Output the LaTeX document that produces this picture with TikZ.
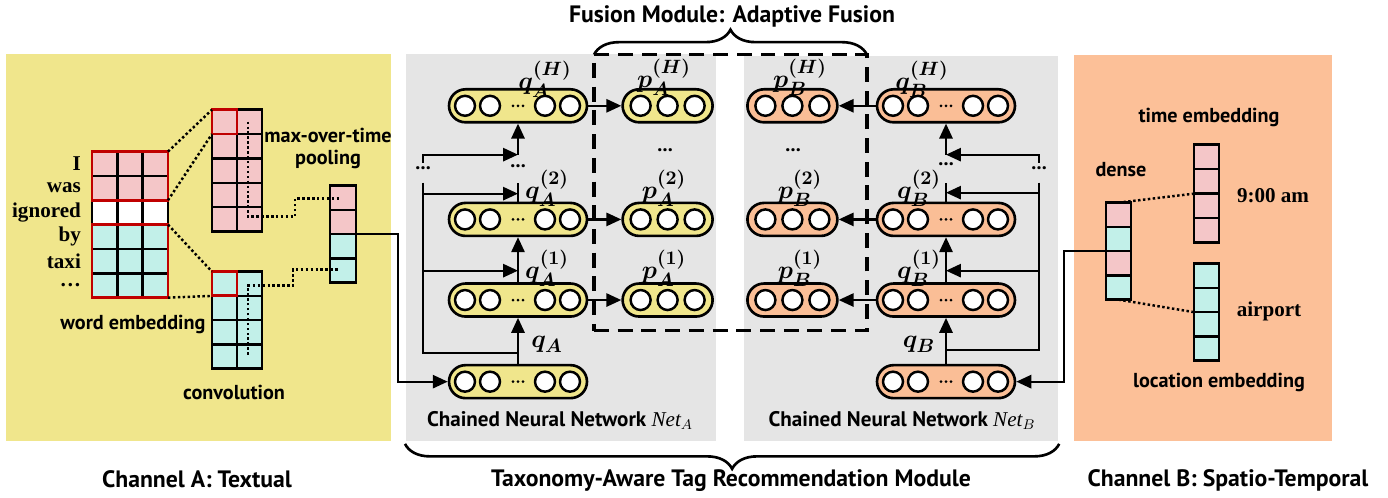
\documentclass[tikz,border=0pt]{standalone}
\usepackage{amsmath}
\usepackage{fontspec}
\setmainfont{PT Sans}
\newfontfamily\wordfont{Liberation Serif}
\usetikzlibrary{arrows.meta, positioning, decorations.pathreplacing}

\definecolor{khaki}{RGB}{240,230,140}
\definecolor{panelgray}{RGB}{229,229,229}
\definecolor{peach}{RGB}{252,192,152}
\definecolor{cellpink}{RGB}{244,198,200}
\definecolor{cellcyan}{RGB}{194,240,233}
\definecolor{pillyellow}{RGB}{240,230,140}
\definecolor{pillorange}{RGB}{250,190,150}
\definecolor{boxred}{RGB}{192,0,0}

\newcommand{\netname}[1]{{\wordfont\itshape\mdseries Net}$_{#1}$}

\begin{document}
\begin{tikzpicture}[
            x = 0.02cm, y = -0.02cm, % one unit = one pixel, y downwards
            > = {Triangle[length=8.5pt,width=7.5pt]}, % arrow head style
            line width = 1.3pt,
            every node/.style = {font=\fontsize{11.5}{13}\selectfont\bfseries}
        ]

        \tikzstyle{panel}=[draw=none, inner sep=0pt, anchor=north west]
        \tikzstyle{mframe}=[draw=none, inner sep=0pt, outer sep=0pt, anchor=north west]
        \tikzstyle{redframe}=[mframe, draw=boxred, line width=1.6pt]
        \tikzstyle{cell}=[draw=black, line width=1.4pt]
        \tikzstyle{dotline}=[dash pattern=on 1.4pt off 1.4pt, line width=1.4pt]
        \tikzstyle{pillA}=[
            draw = black,
            line width = 1.5pt,
            fill = pillyellow,
            rounded corners = 0.33cm,
            minimum width = 2.76cm,
            minimum height = 0.66cm,
            inner sep = 0pt
        ]
        \tikzstyle{pillB}=[pillA, fill=pillorange]
        \tikzstyle{pillshortA}=[pillA, minimum width=1.8cm]
        \tikzstyle{pillshortB}=[pillB, minimum width=1.8cm]
        \tikzstyle{unit}=[draw=black, fill=white, line width=1.4pt]
        \tikzstyle{vlabel}=[font=\fontsize{15}{16}\selectfont\boldmath]
        \tikzstyle{netlabel}=[font=\fontsize{12}{13}\selectfont\bfseries]
        \tikzstyle{title}=[font=\fontsize{13.5}{15}\selectfont\bfseries]
        \tikzstyle{words}=[font=\fontsize{12}{13}\selectfont\wordfont\bfseries, anchor=east, inner sep=0pt]
        \tikzstyle{bracebig}=[decorate, decoration={brace, amplitude=0.5cm}, line width=1.5pt]

        % panels
        \node[panel, fill=khaki, minimum width=7.7cm, minimum height=7.74cm] (chA) at (5,50) {};
        \node[panel, fill=panelgray, minimum width=6.2cm, minimum height=7.74cm] (netA) at (405,50) {};
        \node[panel, fill=panelgray, minimum width=6.28cm, minimum height=7.7cm] (netB) at (743,52) {};
        \node[panel, fill=peach, minimum width=5.16cm, minimum height=7.72cm] (chB) at (1073,51) {};

        % ---------------- channel A ----------------
        \foreach \r/\col in {0/cellpink,1/cellpink,2/white,3/cellcyan,4/cellcyan,5/cellcyan}
            \foreach \k in {0,1,2}
                \draw[cell, fill=\col] (92+\k*25.33, 149+\r*24.33) rectangle ++(25.33,24.33);
        \node[redframe, minimum width=1.52cm, minimum height=0.973cm] (wtop) at (92,149) {};
        \node[redframe, minimum width=1.52cm, minimum height=1.46cm] (wbot) at (92,222) {};

        \foreach \w [count=\i from 0] in {I, was, ignored, by, taxi, \dots}
            \node[words] (w\i) at (82, 161+\i*24.33) {\w};

        % convolution
        \foreach \r in {0,...,4}
            \foreach \k in {0,1}
                \draw[cell, fill=cellpink] (212+\k*25, 107+\r*24.4) rectangle ++(25,24.4);
        \foreach \r in {0,...,3}
            \foreach \k in {0,1}
                \draw[cell, fill=cellcyan] (212+\k*25, 269+\r*24.25) rectangle ++(25,24.25);
        \node[mframe, minimum width=1cm, minimum height=2.44cm] (ctop) at (212,107) {};
        \node[mframe, minimum width=1cm, minimum height=1.94cm] (cbot) at (212,269) {};
        \node[redframe, minimum width=0.5cm, minimum height=0.488cm] (ctopcell) at (212,107) {};
        \node[redframe, minimum width=0.5cm, minimum height=0.485cm] (cbotcell) at (212,269) {};

        % pooled vector
        \foreach \r/\col in {0/cellpink,1/cellpink,2/cellcyan,3/cellcyan}
            \draw[cell, fill=\col] (330, 183+\r*24.25) rectangle ++(26,24.25);
        \node[mframe, minimum width=0.52cm, minimum height=1.94cm] (pool) at (330,183) {};

        \draw[dotline] (wtop.north east) -- (ctop.north west);
        \draw[dotline] (wtop.south east) -- (ctopcell.south west);
        \draw[dotline] (wbot.north east) -- (cbot.north west);
        \draw[dotline] (wbot.south east) -- (cbotcell.south west);
        \draw[dotline] (248,119) -- (248,214) -- (295,214) -- (295,196) -- (339,196);
        \draw[dotline] (248,352) -- (248,283) -- (293,283) -- (293,267) -- (339,267);

        \node (maxpool) at (328,133) {max-over-time};
        \node (pooling) at (328,157) {pooling};
        \node (wordemb) at (133,322) {word embedding};
        \node (conv) at (234,390) {convolution};

        % ---------------- chained network A ----------------
        \node[pillA] (qa0) at (518,379) {};
        \node[pillA] (qa1) [above=0.92cm of qa0] {};
        \node[pillA] (qa2) [above=0.9cm of qa1] {};
        \node[pillA] (qaH) [above=1.56cm of qa2] {};
        \node[pillshortA] (pa1) [right=0.66cm of qa1] {};
        \node[pillshortA] (pa2) [right=0.66cm of qa2] {};
        \node[pillshortA] (paH) [right=0.66cm of qaH] {};

        % ---------------- chained network B ----------------
        \node[pillB] (qb0) at (946,379) {};
        \node[pillB] (qb1) [above=0.92cm of qb0] {};
        \node[pillB] (qb2) [above=0.9cm of qb1] {};
        \node[pillB] (qbH) [above=1.56cm of qb2] {};
        \node[pillshortB] (pb1) [left=0.74cm of qb1] {};
        \node[pillshortB] (pb2) [left=0.74cm of qb2] {};
        \node[pillshortB] (pbH) [left=0.74cm of qbH] {};

        % units inside the pills
        \foreach \n in {qa0,qa1,qa2,qaH,qb0,qb1,qb2,qbH} {
            \foreach \dx in {-53,-28,27,52}
                \draw[unit] ([xshift=\dx*0.02cm]\n.center) circle (0.2cm);
            \foreach \dx in {-5,0,5}
                \fill ([xshift=\dx*0.02cm]\n.center) circle (0.03cm);
        }
        \foreach \n in {pa1,pa2,paH,pb1,pb2,pbH}
            \foreach \dx in {-27,0,27}
                \draw[unit] ([xshift=\dx*0.02cm]\n.center) circle (0.2cm);

        % chain A
        \coordinate (topA) at (518,180);
        \coordinate (hA) at (518,152);
        \coordinate (sa0) at (423,350);
        \coordinate (sa1) at (423,268);
        \coordinate (sa2) at (423,191);
        \coordinate (saT) at (423,180);
        \coordinate (sa3) at (423,160);
        \draw[->] (qa0) -- (qa1);
        \draw[->] (qa1) -- (qa2);
        \draw (qa2.north) -- (topA);
        \draw[->] (hA) -- (qaH.south);
        \draw (saT) -- (sa0) -- (sa0 -| qa0.north);
        \draw[->] (sa1) -- (sa1 -| qa1.north);
        \draw[->] (sa2) -- (sa2 -| qa1.north);
        \draw[->] (sa3) |- (hA);
        \node at (423,166) {...};
        \node at (518,164) {...};
        \path[->] (qa1) edge (pa1)
                  (qa2) edge (pa2)
                  (qaH) edge (paH);

        % chain B
        \coordinate (topB) at (946,180);
        \coordinate (hB) at (946,152);
        \coordinate (sb0) at (1039,347);
        \coordinate (sb1) at (1039,268);
        \coordinate (sb2) at (1039,190);
        \coordinate (sbT) at (1039,180);
        \coordinate (sb3) at (1039,160);
        \draw[->] (qb0) -- (qb1);
        \draw[->] (qb1) -- (qb2);
        \draw (qb2.north) -- (topB);
        \draw[->] (hB) -- (qbH.south);
        \draw (sbT) -- (sb0) -- (sb0 -| qb0.north);
        \draw[->] (sb1) -- (sb1 -| qb1.north);
        \draw[->] (sb2) -- (sb2 -| qb1.north);
        \draw[->] (sb3) |- (hB);
        \node at (1039,166) {...};
        \node at (946,162) {...};
        \path[->] (qb1) edge (pb1)
                  (qb2) edge (pb2)
                  (qbH) edge (pbH);

        % vector labels
        \node[vlabel] at (547,342) {$q_A$};
        \node[vlabel] at (547,266) {$q_A^{(1)}$};
        \node[vlabel] at (547,186) {$q_A^{(2)}$};
        \node[vlabel] at (545,77) {$q_A^{(H)}$};
        \node[vlabel] at (664,266) {$p_A^{(1)}$};
        \node[vlabel] at (664,186) {$p_A^{(2)}$};
        \node[vlabel] at (664,75) {$p_A^{(H)}$};
        \node at (665,148) {...};
        \node[vlabel] at (919,342) {$q_B$};
        \node[vlabel] at (919,266) {$q_B^{(1)}$};
        \node[vlabel] at (919,186) {$q_B^{(2)}$};
        \node[vlabel] at (922,77) {$q_B^{(H)}$};
        \node[vlabel] at (800,266) {$p_B^{(1)}$};
        \node[vlabel] at (800,186) {$p_B^{(2)}$};
        \node[vlabel] at (800,75) {$p_B^{(H)}$};
        \node at (793,148) {...};

        \node[netlabel] at (560,418) {Chained Neural Network \netname{A}};
        \node[netlabel] at (902,418) {Chained Neural Network \netname{B}};

        % fusion module
        \node[mframe, draw=black, line width=1.8pt, dash pattern=on 8.5pt off 5pt,
              minimum width=5.46cm, minimum height=5.52cm] (fusion) at (594,52) {};
        \draw[bracebig] (fusion.north west) -- (fusion.north east);
        \node[title] at (732,14) {Fusion Module: Adaptive Fusion};

        % ---------------- channel B ----------------
        \foreach \r/\col in {0/cellpink,1/cellcyan,2/cellpink,3/cellcyan}
            \draw[cell, fill=\col] (1106, 200+\r*24.25) rectangle ++(25,24.25);
        \foreach \r in {0,...,3}
            \draw[cell, fill=cellpink] (1194, 142+\r*24.5) rectangle ++(25,24.5);
        \foreach \r in {0,...,3}
            \draw[cell, fill=cellcyan] (1194, 261+\r*24.25) rectangle ++(25,24.25);
        \node[mframe, minimum width=0.5cm, minimum height=1.94cm] (dense) at (1106,200) {};
        \node[mframe, minimum width=0.5cm, minimum height=1.96cm] (timeemb) at (1194,142) {};
        \node[mframe, minimum width=0.5cm, minimum height=1.94cm] (locemb) at (1194,261) {};
        \draw[dotline] (dense.north) -- (timeemb.west);
        \draw[dotline] (dense.south) -- (locemb.west);

        \node at (1209,115) {time embedding};
        \node at (1121,167) {dense};
        \node[words, anchor=center] at (1273,193) {9:00 am};
        \node[words, anchor=center] at (1269,309) {airport};
        \node at (1219,380) {location embedding};

        % channels into the chains
        \draw[->] (pool.east) -- ++(42,0) |- (qa0.west);
        \draw[->] (dense.west) -- ++(-42,0) |- (qb0.east);

        % bottom
        \draw[bracebig] ([yshift=-0.04cm]netB.south east) -- ([yshift=-0.04cm]netA.south west);
        \node[title] at (197,477) {Channel A: Textual};
        \node[title] at (731,478) {Taxonomy-Aware Tag Recommendation Module};
        \node[title] at (1228,478) {Channel B: Spatio-Temporal};

        \useasboundingbox (0,0) rectangle (1388,495);

    \end{tikzpicture}
\end{document}
